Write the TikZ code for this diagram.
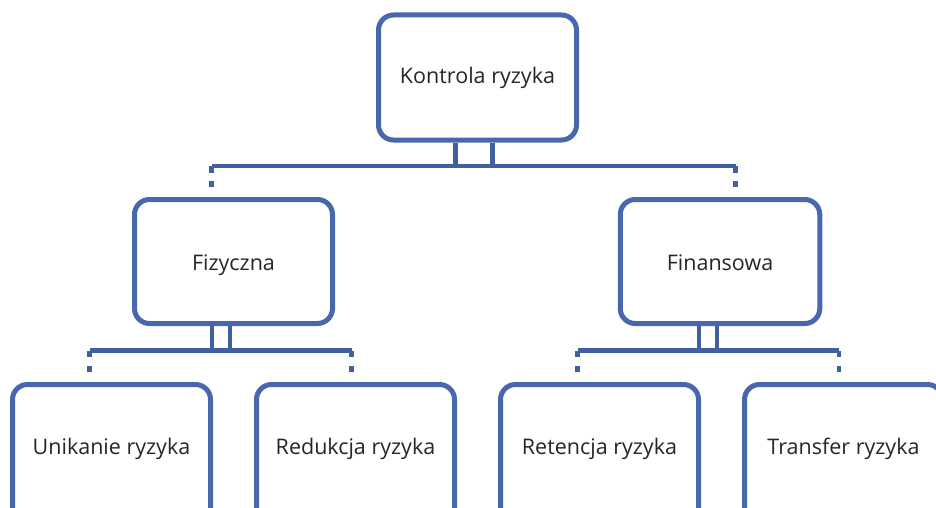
\documentclass[tikz,border=0pt]{standalone}
\usepackage{fontspec}
\setmainfont{Open Sans}
\begin{document}
\definecolor{boxblue}{HTML}{4967AC}
\definecolor{linkblue}{HTML}{41609F}
\definecolor{txt}{HTML}{262626}
\begin{tikzpicture}[x=1pt,y=-1pt,
  box/.style={draw=boxblue, line width=5pt, rounded corners=15pt, fill=white,
    minimum width=198pt, minimum height=124pt, inner sep=0pt,
    text height=21pt, text depth=4pt,
    font=\fontsize{21.5}{25}\selectfont, text=txt},
  leaf/.style={box, minimum height=140pt, text height=12pt, text depth=12pt},
  conn/.style={draw=linkblue, line width=4.5pt, line cap=butt, line join=round},
  tick/.style={conn, dash pattern=on 6.5pt off 8.5pt on 6pt off 60pt}
]
\useasboundingbox (0,0) rectangle (936,508);
\clip (0,0) rectangle (936,508);

% boxes
\node[box, minimum height=125pt, text height=16pt, text depth=4.4pt] (K) at (477.5,77.5) {Kontrola ryzyka};
\node[box] (Fiz) at (233.5,261.5) {Fizyczna};
\node[box, minimum width=199.5pt] (Fin) at (720,261.5) {Finansowa};
\node[leaf] (U)  at (111.5,454.5) {Unikanie ryzyka};
\node[leaf] (R)  at (355.5,454.5) {Redukcja ryzyka};
\node[leaf] (Re) at (599.5,454.5) {Retencja ryzyka};
\node[leaf] (T)  at (843.5,454.5) {Transfer ryzyka};

% first level connector
\coordinate (kbL) at (211.5,166);
\coordinate (kbR) at (735.5,166);
\draw[conn] ([xshift=-22pt]K.south) -- ([xshift=-22pt]K.south |- kbL);
\draw[conn] ([xshift=15pt]K.south) -- ([xshift=15pt]K.south |- kbL);
\draw[conn] (kbL) -- (kbR);
\draw[tick] (kbL) -- (kbL |- Fiz.north);
\draw[tick] (kbR) -- (kbR |- Fin.north);

% second level, left branch
\coordinate (fbL) at (89.5,350.5);
\coordinate (fbR) at (351.5,350.5);
\draw[conn] ([xshift=-21.5pt]Fiz.south) -- ([xshift=-21.5pt]Fiz.south |- fbL);
\draw[conn] ([xshift=-3.5pt]Fiz.south) -- ([xshift=-3.5pt]Fiz.south |- fbL);
\draw[conn] (fbL) -- (fbR);
\draw[tick] (fbL) -- (fbL |- U.north);
\draw[tick] (fbR) -- (fbR |- R.north);

% second level, right branch
\coordinate (nbL) at (577.5,350.5);
\coordinate (nbR) at (839,350.5);
\draw[conn] ([xshift=-21pt]Fin.south) -- ([xshift=-21pt]Fin.south |- nbL);
\draw[conn] ([xshift=-3pt]Fin.south) -- ([xshift=-3pt]Fin.south |- nbL);
\draw[conn] (nbL) -- (nbR);
\draw[tick] (nbL) -- (nbL |- Re.north);
\draw[tick] (nbR) -- (nbR |- T.north);
\end{tikzpicture}
\end{document}
